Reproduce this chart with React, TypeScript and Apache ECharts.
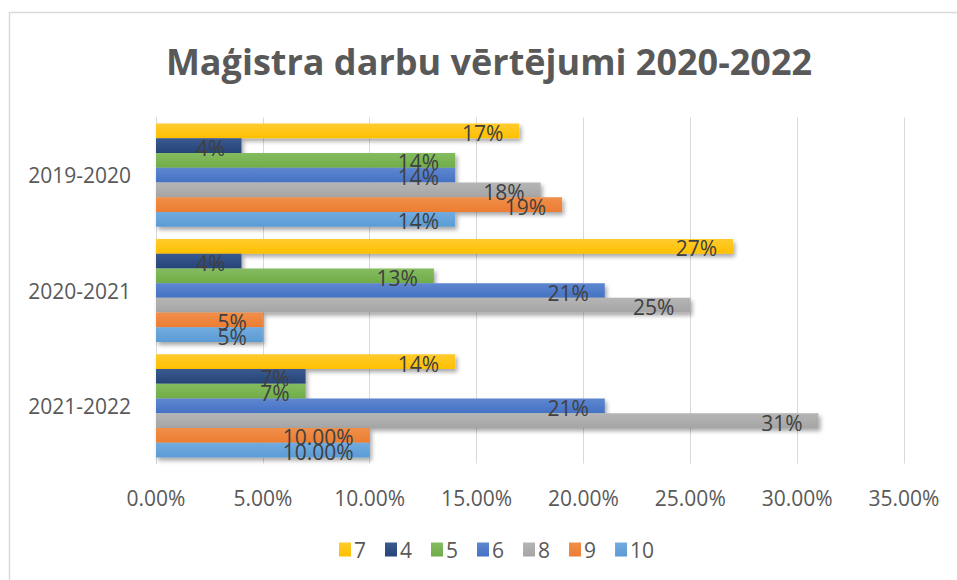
import React, { useEffect, useRef } from "react";
import * as echarts from "echarts";

const categories = ["2021-2022", "2020-2021", "2019-2020"];
const seriesNames = ["7", "4", "5", "6", "8", "9", "10"];
const values7 = [14, 27, 17];
const values4 = [7, 4, 4];
const values5 = [7, 13, 14];
const values6 = [21, 21, 14];
const values8 = [31, 25, 18];
const values9 = [10, 5, 19];
const values10 = [10, 5, 14];
const digits9 = [2, 0, 0];
const digits10 = [2, 0, 0];
const digitsOther = [0, 0, 0];
const xTicks = [0, 5, 10, 15, 20, 25, 30, 35];

const seriesValues = [values7, values4, values5, values6, values8, values9, values10];
const seriesDigits = [digitsOther, digitsOther, digitsOther, digitsOther, digitsOther, digits9, digits10];
const colors = ["#FFC000", "#264478", "#70AD47", "#4472C4", "#A5A5A5", "#ED7D31", "#5B9BD5"];
const lightColors = ["#FFCB2E", "#3A5A90", "#84BC60", "#5F87D0", "#B5B5B5", "#F08F4B", "#72ABDF"];

const FONT = "'Open Sans', 'Noto Sans', sans-serif";

export default function App() {
  const ref = useRef<HTMLDivElement>(null);
  useEffect(() => {
    if (!ref.current) return;
    const chart = echarts.init(ref.current, null, { renderer: "svg" });
    const series = seriesNames.map((name, i) => ({
      name,
      type: "bar",
      barGap: "0%",
      barCategoryGap: "10.5%",
      data: seriesValues[i].map((v, j) => ({
        value: v,
        label: { formatter: v.toFixed(seriesDigits[i][j]) + "%" },
      })),
      itemStyle: {
        color: new echarts.graphic.LinearGradient(0, 0, 0, 1, [
          { offset: 0, color: lightColors[i] },
          { offset: 1, color: colors[i] },
        ]),
        shadowColor: "rgba(0,0,0,0.35)",
        shadowBlur: 4,
        shadowOffsetX: 2,
        shadowOffsetY: 3,
      },
      label: {
        show: true,
        position: "insideRight",
        distance: 16,
        offset: [0, 2],
        color: "#404040",
        fontSize: 21,
        fontFamily: FONT,
      },
    }));
    chart.setOption({
      animation: false,
      color: colors,
      graphic: [
        {
          type: "rect",
          shape: { x: 9.5, y: 12.5, width: 980, height: 620 },
          style: { fill: "none", stroke: "#D9D9D9", lineWidth: 1.5 },
          silent: true,
        },
        {
          type: "text",
          x: 489,
          y: 61,
          style: {
            text: "Maģistra darbu vērtējumi 2020-2022",
            fill: "#595959",
            font: `bold 36px ${FONT}`,
            textAlign: "center",
            textVerticalAlign: "middle",
          },
        },
      ],
      legend: {
        data: seriesNames,
        left: 334,
        top: 534,
        itemWidth: 12,
        itemHeight: 14,
        itemGap: 19,
        icon: "rect",
        textStyle: { color: "#595959", fontSize: 21, fontFamily: FONT, padding: [0, 0, 0, -2] },
      },
      grid: { left: 156, right: 53, top: 117.5, bottom: 116.5, containLabel: false },
      xAxis: {
        type: "value",
        min: xTicks[0],
        max: xTicks[xTicks.length - 1],
        interval: 5,
        axisLine: { show: false },
        axisTick: { show: false },
        splitLine: { show: true, lineStyle: { color: "#D9D9D9", width: 1 } },
        axisLabel: {
          margin: 24,
          color: "#595959",
          fontSize: 21,
          fontFamily: FONT,
          formatter: (v: number) => v.toFixed(2) + "%",
        },
      },
      yAxis: {
        type: "category",
        data: categories,
        axisLine: { show: true, lineStyle: { color: "#D9D9D9", width: 1 } },
        axisTick: { show: false },
        axisLabel: { margin: 25, color: "#595959", fontSize: 21, fontFamily: FONT },
      },
      series,
    });
    return () => chart.dispose();
  }, []);
  return <div ref={ref} style={{ position: "fixed", left: 0, top: 0, width: 957, height: 580, background: "#fff" }} />;
}
